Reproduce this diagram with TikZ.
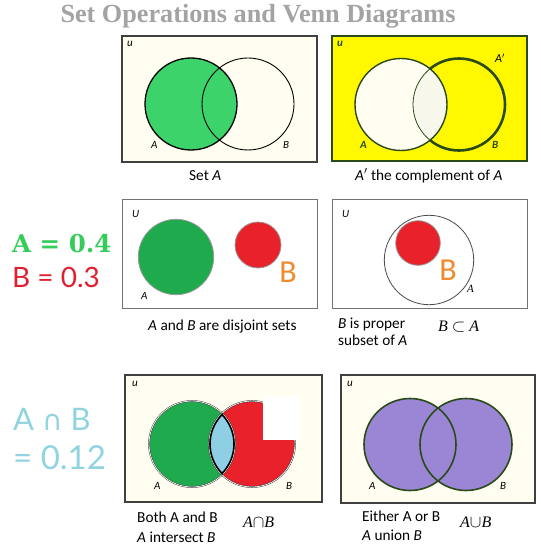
\documentclass[tikz,border=0pt]{standalone}
\usepackage{fontspec}
\setmainfont{Carlito}
\newfontfamily\titolofont{Liberation Serif}
\newfontfamily\slabfont{DejaVu Serif}
\newfontfamily\sottilefont{Lato}
\newfontfamily\simbolofont{DejaVu Sans}
\usetikzlibrary{positioning}
\definecolor{crema}{HTML}{FFFEF0}
\definecolor{cremascuro}{HTML}{F7F7EC}
\definecolor{verdeA}{HTML}{3CD36A}
\definecolor{verdeC}{HTML}{1FAA4E}
\definecolor{verdescuro}{HTML}{2A4A1A}
\definecolor{giallo}{HTML}{FFF800}
\definecolor{rosso}{HTML}{E8212B}
\definecolor{arancio}{HTML}{F08A2C}
\definecolor{azzurro}{HTML}{8FCFE4}
\definecolor{viola}{HTML}{9A86D5}
\definecolor{grigiotitolo}{HTML}{A3A3A3}
\definecolor{verdetesto}{HTML}{35CC5A}
\definecolor{rossotesto}{HTML}{E02030}
\definecolor{azzurrotesto}{HTML}{90D4E0}
\tikzset{
  pannello/.style={draw=black!75, line width=1.2pt, fill=crema},
  etichetta/.style={font=\fontsize{11}{13}\selectfont\itshape, inner sep=0pt, anchor=base west},
  didascalia/.style={font=\fontsize{15.3}{17}\selectfont, inner sep=0pt, anchor=base west},
  simbolo/.style={font=\titolofont\fontsize{16}{18}\selectfont\itshape, inner sep=0pt, anchor=base west},
  grande/.style={font=\fontsize{32}{34}\selectfont, text=arancio, inner sep=0pt, anchor=base},
  valore/.style={inner sep=0pt, anchor=base west}
}
\begin{document}
\begin{tikzpicture}[x=1pt,y=-1pt]
        \useasboundingbox (0,0) rectangle (540,548);
        %titolo
        \node (titolo) at (258,23)[anchor=base, inner sep=0pt, text=grigiotitolo, font=\titolofont\bfseries\fontsize{26.2}{28}\selectfont]{Set Operations and Venn Diagrams};
        %pannello insieme A
        \coordinate (cA1) at (191,104);
        \coordinate (cB1) at (248,104);
        \draw[pannello] (122,36) rectangle (317,162);
        \fill[verdeA] (cA1) circle (46);
        \draw[line width=1.3pt] (cA1) circle (46);
        \draw[line width=0.9pt] (cB1) circle (46);
        \node (u1) at (127,47)[etichetta]{u};
        \node (a1) at (151,149)[etichetta]{A};
        \node (b1) at (283,149)[etichetta]{B};
        \node (cap1) at (189,180)[didascalia]{Set \textit{A}};
        %pannello complemento
        \coordinate (cA2) at (401,104.5);
        \coordinate (cB2) at (459,104.5);
        \draw[line width=2.5pt, draw=verdescuro, fill=giallo] (332,36) rectangle (527,161);
        \draw[verdescuro, line width=2.6pt] (cB2) circle (46);
        \begin{scope}
          \clip (cA2) circle (46);
          \fill[crema] (cA2) circle (47);
          \fill[cremascuro] (cB2) circle (46);
        \end{scope}
        \draw[verdescuro, line width=0.8pt] (cB2) circle (46);
        \draw[verdescuro, line width=1.4pt] (cA2) circle (46);
        \node (u2) at (337,47)[etichetta, font=\fontsize{11}{13}\selectfont\bfseries\itshape, text=verdescuro]{u};
        \node (ac2) at (495,62.7)[etichetta, font=\fontsize{12}{14}\selectfont\itshape]{A$'$};
        \node (a2) at (360,149)[etichetta, font=\fontsize{11}{13}\selectfont\bfseries\itshape, text=verdescuro]{A};
        \node (b2) at (492,149)[etichetta, font=\fontsize{11}{13}\selectfont\bfseries\itshape, text=verdescuro]{B};
        \node (cap2) at (355,180)[didascalia]{\textit{A}$'$ the complement of \textit{A}};
        %valori A e B
        \node (va) at (12,252)[valore, text=verdetesto, font=\slabfont\bfseries\fontsize{24.5}{26}\selectfont]{A = 0.4};
        \node (vb) at (12,287)[valore, text=rossotesto, font=\sottilefont\fontsize{28}{30}\selectfont]{B = 0.3};
        %pannello disgiunti
        \draw[pannello, draw=black!55, line width=1pt, fill=white] (122,199) rectangle (317,308);
        \fill[verdeC] (176,257) circle (37.7);
        \draw[black!40, line width=0.8pt] (176,257) circle (37.7);
        \fill[rosso] (258,245) circle (23);
        \draw[black!40, line width=0.8pt] (258,245) circle (23);
        \node (u3) at (132,217)[etichetta]{U};
        \node (a3) at (141,299)[etichetta]{A};
        \node (b3) at (288,282)[grande]{B};
        \node (cap3) at (148,330)[didascalia]{\textit{A} and \textit{B} are disjoint sets};
        %pannello sottoinsieme
        \draw[pannello, draw=black!55, line width=1pt, fill=white] (332,199) rectangle (527,308);
        \draw[black!70, line width=0.8pt] (429,260) circle (44.7);
        \fill[rosso] (418,243) circle (22.3);
        \draw[black!40, line width=0.8pt] (418,243) circle (22.3);
        \node (u4) at (342,217)[etichetta]{U};
        \node (a4) at (467,292)[etichetta, font=\titolofont\fontsize{11}{13}\selectfont\itshape]{A};
        \node (b4) at (448,280)[grande]{B};
        \node (cap4) at (338,345)[didascalia, align=left]{\textit{B} is proper\\subset of \textit{A}};
        \node (s4) at (438,331)[simbolo]{B $\subset$ A};
        %valore intersezione
        \node (vab) at (13,430)[valore, text=azzurrotesto, font=\sottilefont\fontsize{31}{33}\selectfont]{A {\simbolofont\fontsize{28}{30}\selectfont ∩} B};
        \node (vabn) at (13,469)[valore, text=azzurrotesto, font=\sottilefont\fontsize{33}{35}\selectfont]{= 0.12};
        %pannello intersezione
        \coordinate (cA5) at (192,444);
        \coordinate (cB5) at (252,444);
        \draw[pannello] (125,375) rectangle (322,502);
        \fill[verdeC] (cA5) circle (43);
        \fill[rosso] (cB5) circle (43);
        \begin{scope}
          \clip (cA5) circle (43);
          \fill[azzurro] (cB5) circle (43);
        \end{scope}
        \draw[black!80, line width=1.6pt] (cA5) circle (43);
        \draw[white, line width=0.7pt] (cA5) circle (43);
        \draw[black!80, line width=1.6pt] (cB5) circle (43);
        \draw[white, line width=0.7pt] (cB5) circle (43);
        \begin{scope}
          \clip (cA5) circle (43);
          \draw[black, line width=1.6pt] (cB5) circle (42);
        \end{scope}
        \begin{scope}
          \clip (cB5) circle (43);
          \draw[black, line width=1.6pt] (cA5) circle (42);
        \end{scope}
        \fill[white] (263,396) rectangle (300,440);
        \node (u5) at (132,386)[etichetta]{u};
        \node (a5) at (154,489)[etichetta]{A};
        \node (b5) at (286,489)[etichetta]{B};
        \node (cap5) at (137,542)[didascalia, align=left]{Both A and B\\[3pt]\textit{A} intersect \textit{B}};
        \node (s5) at (243,527)[simbolo]{A$\cap$B};
        %pannello unione
        \coordinate (cA6) at (410,444.5);
        \coordinate (cB6) at (466,444.5);
        \draw[pannello] (341,375) rectangle (535,503);
        \fill[viola] (cA6) circle (46);
        \fill[viola] (cB6) circle (46);
        \draw[verdescuro, line width=1.6pt] (cA6) circle (46);
        \draw[verdescuro, line width=1.6pt] (cB6) circle (46);
        \node (u6) at (347,386)[etichetta]{u};
        \node (a6) at (369,489)[etichetta]{A};
        \node (b6) at (500,489)[etichetta]{B};
        \node (cap6) at (362,540)[didascalia, align=left]{Either A or B\\[1.3pt]\textit{A} union \textit{B}};
        \node (s6) at (460,527)[simbolo]{A$\cup$B};
    \end{tikzpicture}
\end{document}
